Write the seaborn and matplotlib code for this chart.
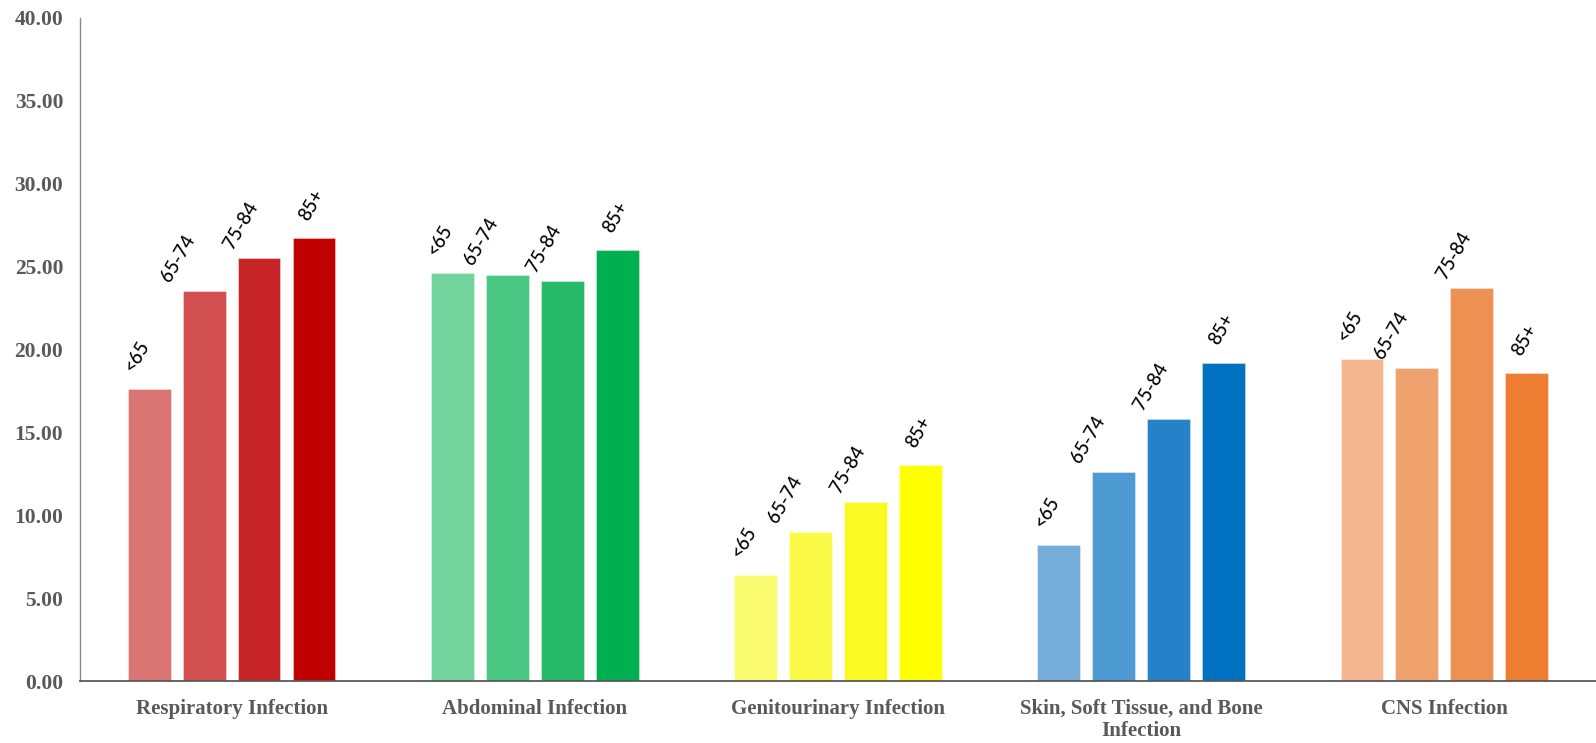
import matplotlib
matplotlib.use("Agg")
import matplotlib.pyplot as plt
import seaborn as sns
import pandas as pd

# Infection categories (x axis) and age groups (bars within each category)
infections = [
    "Respiratory Infection",
    "Abdominal Infection",
    "Genitourinary Infection",
    "Skin, Soft Tissue, and Bone\nInfection",
    "CNS Infection",
]
age_groups = ["<65", "65-74", "75-84", "85+"]

# Rates per age group, one list per infection category
respiratory = [17.6, 23.5, 25.5, 26.7]
abdominal = [24.6, 24.5, 24.1, 26.0]
genitourinary = [6.4, 9.0, 10.8, 13.0]
skin_soft_tissue_bone = [8.2, 12.6, 15.8, 19.2]
cns = [19.4, 18.85, 23.7, 18.55]

y_ticks = [0, 5, 10, 15, 20, 25, 30, 35, 40]

# Light-to-dark shades for each category
shades = [
    ["#DA7574", "#D14F4F", "#C72427", "#C00000"],
    ["#73D39D", "#4AC782", "#26B968", "#00B050"],
    ["#FAFA6E", "#FAFA46", "#FAFA23", "#FFFF00"],
    ["#75ADD8", "#4E9AD3", "#2682C8", "#0070C0"],
    ["#F4B68E", "#EFA26E", "#ED9051", "#ED7D31"],
]

# Horizontal nudge (pixels) of each age label relative to its bar centre
label_shift = [-12, -26, -18, -2]

series = [respiratory, abdominal, genitourinary, skin_soft_tissue_bone, cns]
rows = []
for cat, vals in zip(infections, series):
    for age, v in zip(age_groups, vals):
        rows.append({"infection": cat, "age": age, "rate": v})
df = pd.DataFrame(rows)

sns.set_style("white")
plt.rcParams["font.family"] = ["Liberation Serif", "DejaVu Serif"]

fig = plt.figure(figsize=(15.96, 7.43), dpi=100)
ax = fig.add_axes([0.0501, 0.0834, 0.9499, 0.8930])

sns.barplot(
    data=df, x="infection", y="rate", hue="age",
    order=infections, hue_order=age_groups,
    width=0.725, gap=0.22, saturation=1, errorbar=None,
    legend=False, ax=ax,
)

# Per-category shading and rotated age labels above each bar
for i, (age, container) in enumerate(zip(age_groups, ax.containers)):
    for j, bar in enumerate(container):
        bar.set_facecolor(shades[j][i])
        bar.set_edgecolor((1, 1, 1, 0.35))
        bar.set_linewidth(0.8)
        ax.annotate(
            age, (bar.get_x() + bar.get_width() / 2, bar.get_height()),
            xytext=(label_shift[i], 33), textcoords="offset pixels",
            rotation=60, rotation_mode="anchor",
            ha="center", va="center", fontsize=13.5, fontweight="medium",
            color="black", family=["Lato", "DejaVu Sans"],
        )

ax.set_ylim(0, 40)
ax.set_yticks(y_ticks)
ax.set_yticklabels([f"{t:.2f}" for t in y_ticks])
ax.set_xlabel("")
ax.set_ylabel("")

for lab in ax.get_yticklabels():
    lab.set_fontweight("bold")
    lab.set_color("#595959")
    lab.set_fontsize(15.5)
for lab in ax.get_xticklabels():
    lab.set_fontweight("bold")
    lab.set_color("#595959")
    lab.set_fontsize(15)
    lab.set_linespacing(1.1)

ax.tick_params(axis="y", length=0, pad=12)
ax.tick_params(axis="x", length=0, pad=13)

for side in ("top", "right"):
    ax.spines[side].set_visible(False)
ax.spines["left"].set_color("#898989")
ax.spines["left"].set_linewidth(1.0)
ax.spines["bottom"].set_color("#595959")
ax.spines["bottom"].set_linewidth(1.3)

fig.savefig("out.png", dpi=100, facecolor="white")
